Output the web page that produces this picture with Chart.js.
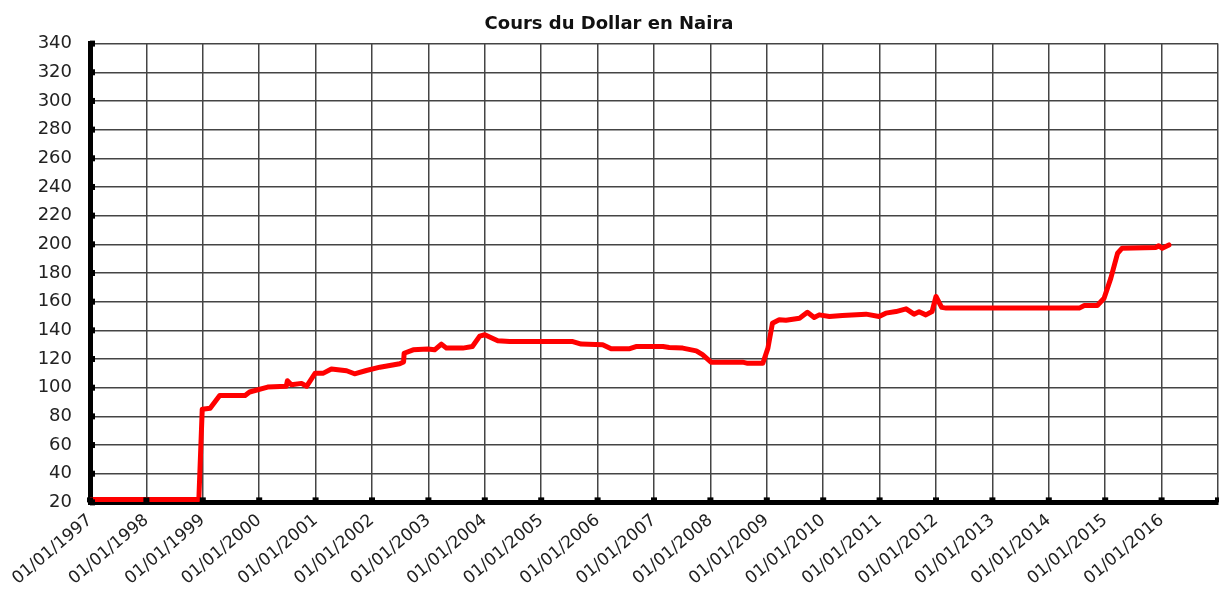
<!DOCTYPE html>
<html>
<head>
<meta charset="utf-8">
<script src="https://cdn.jsdelivr.net/npm/chart.js@4.4.1/dist/chart.umd.min.js"></script>
<style>
html,body{margin:0;padding:0;background:#fff;overflow:hidden;}
#wrap{width:1219px;height:597px;}
</style>
</head>
<body>
<div id="wrap"><canvas id="c" width="1219" height="597"></canvas></div>
<script>
const chartTitle = "Cours du Dollar en Naira";
// dates as fractional years
const dates = [1997.0,1998.93,1998.99,1999.13,1999.30,1999.75,1999.83,2000.15,2000.48,2000.50,2000.57,2000.75,2000.84,2000.99,2001.13,2001.28,2001.55,2001.69,2001.90,2002.14,2002.49,2002.56,2002.57,2002.73,2002.99,2003.11,2003.23,2003.32,2003.61,2003.78,2003.91,2004.00,2004.23,2004.44,2005.56,2005.71,2006.09,2006.24,2006.57,2006.68,2007.16,2007.27,2007.51,2007.75,2007.86,2008.01,2008.57,2008.66,2008.93,2009.02,2009.10,2009.22,2009.34,2009.58,2009.72,2009.84,2009.93,2010.11,2010.34,2010.76,2010.99,2011.11,2011.29,2011.47,2011.61,2011.70,2011.82,2011.93,2012.00,2012.10,2012.18,2014.54,2014.63,2014.86,2014.98,2015.10,2015.22,2015.30,2015.90,2015.95,2016.01,2016.13];
const rates = [22,22,85,85.7,94.6,94.6,97,100.4,101,104.8,102,103,101,110,110,113,111.8,109.7,112,114.3,116.7,118,124,126.4,127,126.4,130.4,127.6,127.6,128.7,136,136.9,132.7,132.2,132.2,130.4,130,127.2,127.2,128.7,128.7,128,127.6,125.7,123,117.8,117.8,117,117,127.6,145,147.4,147,148.5,152.6,149,150.8,149.7,150.4,151.3,149.7,152,153.1,155,151.3,153,150.8,153.1,163.6,156,155.5,155.5,157.3,157.3,162.4,176.4,193.8,197.3,197.8,199,197.3,199.6];
const tickYears = [1997,1998,1999,2000,2001,2002,2003,2004,2005,2006,2007,2008,2009,2010,2011,2012,2013,2014,2015,2016,2017];
const tickLabels = ["01/01/1997","01/01/1998","01/01/1999","01/01/2000","01/01/2001","01/01/2002","01/01/2003","01/01/2004","01/01/2005","01/01/2006","01/01/2007","01/01/2008","01/01/2009","01/01/2010","01/01/2011","01/01/2012","01/01/2013","01/01/2014","01/01/2015","01/01/2016",""];
const yMin = 20, yMax = 340, yStep = 20;

const tickSquares = {
  id: 'tickSquares',
  afterDatasetsDraw(chart) {
    const ctx = chart.ctx, ca = chart.chartArea;
    const xs = chart.scales.x, ys = chart.scales.y;
    ctx.save();
    ctx.fillStyle = '#000';
    ys.ticks.forEach(t => {
      const py = ys.getPixelForValue(t.value);
      ctx.fillRect(ca.left, py - 3, 5, 6);
    });
    xs.ticks.forEach(t => {
      const px = xs.getPixelForValue(t.value);
      ctx.fillRect(px - 3, ca.bottom - 5, 6, 5);
    });
    ctx.restore();
  }
};

new Chart(document.getElementById('c'), {
  type: 'line',
  data: {
    datasets: [{
      data: dates.map((d, i) => ({x: d, y: rates[i]})),
      borderColor: '#ff0000',
      borderWidth: 5,
      pointRadius: 0,
      tension: 0,
      borderJoinStyle: 'round',
      borderCapStyle: 'round',
      fill: false
    }]
  },
  options: {
    responsive: false,
    animation: false,
    layout: { padding: { left: 0, right: 1, top: 0, bottom: 0 } },
    plugins: {
      legend: { display: false },
      tooltip: { enabled: false },
      title: {
        display: true,
        text: chartTitle,
        color: '#111',
        font: { family: 'DejaVu Sans', size: 18, weight: 'bold' },
        padding: { top: 14, bottom: 8 }
      }
    },
    scales: {
      x: {
        type: 'linear',
        min: tickYears[0],
        max: tickYears[tickYears.length - 1],
        afterBuildTicks(scale) { scale.ticks = tickYears.map(v => ({value: v})); },
        afterFit(scale) { scale.paddingLeft = 0; scale.paddingRight = 0; },
        border: { color: '#000', width: 5 },
        grid: { color: '#444', lineWidth: 1.5, drawTicks: false },
        ticks: {
          color: '#222',
          font: { family: 'DejaVu Sans', size: 17 },
          minRotation: 40,
          maxRotation: 40,
          autoSkip: false,
          padding: 8,
          callback: (v) => { const i = tickYears.indexOf(v); return i >= 0 ? tickLabels[i] : ''; }
        }
      },
      y: {
        min: yMin,
        max: yMax,
        afterFit(scale) { scale.width = 90; },
        border: { color: '#000', width: 5 },
        grid: { color: '#444', lineWidth: 1.5, drawTicks: false },
        ticks: {
          stepSize: yStep,
          color: '#222',
          font: { family: 'DejaVu Sans', size: 18 },
          padding: 18
        }
      }
    }
  },
  plugins: [tickSquares]
});
</script>
</body>
</html>
